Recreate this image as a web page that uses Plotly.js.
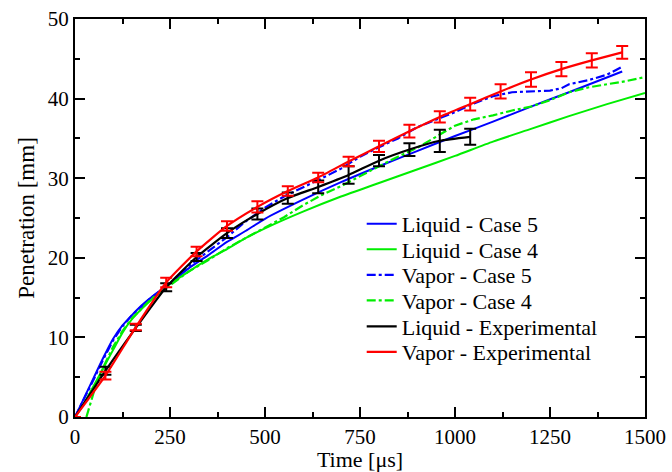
<!DOCTYPE html>
<html>
<head>
<meta charset="utf-8">
<script src="https://cdn.plot.ly/plotly-3.0.1.min.js"></script>
<style>html,body{margin:0;padding:0;background:#fff;}#chart{width:672px;height:472px;}</style>
</head>
<body>
<div id="chart"></div>
<script>
// Liquid - Case 5 (blue solid)
const liqC5_x = [0, 25, 50, 75, 100, 125, 150, 175, 200, 250, 300, 350, 400, 450, 500, 600, 700, 800, 900, 1000, 1100, 1200, 1300, 1440];
const liqC5_y = [0, 2.5, 5.0, 7.5, 9.8, 11.5, 12.8, 14.0, 15.0, 16.8, 18.7, 20.3, 22.0, 23.4, 24.9, 27.3, 29.5, 31.5, 33.4, 35.3, 37.1, 39.0, 40.8, 43.4];
// Liquid - Case 4 (green solid)
const liqC4_x = [0, 25, 50, 75, 100, 125, 150, 200, 250, 300, 350, 400, 450, 500, 600, 700, 800, 900, 1000, 1100, 1200, 1300, 1400, 1500];
const liqC4_y = [0, 1.8, 4.0, 6.2, 8.4, 10.6, 12.3, 14.7, 16.7, 18.3, 19.8, 21.1, 22.5, 23.7, 25.8, 27.7, 29.4, 31.1, 32.8, 34.6, 36.2, 37.8, 39.3, 40.7];
// Vapor - Case 5 (blue dash-dot)
const vapC5_x = [0, 25, 50, 75, 100, 125, 150, 175, 200, 250, 300, 350, 400, 450, 500, 550, 600, 650, 700, 750, 800, 850, 900, 950, 1000, 1050, 1100, 1150, 1200, 1250, 1280, 1300, 1350, 1400, 1440];
const vapC5_y = [0, 2.3, 4.8, 7.3, 9.6, 11.4, 12.8, 13.9, 15.0, 16.8, 19.0, 20.8, 22.6, 24.6, 26.3, 27.7, 28.8, 30.0, 31.2, 32.7, 33.9, 35.0, 36.4, 37.3, 38.3, 39.4, 40.3, 40.8, 40.9, 41.0, 41.3, 41.8, 42.3, 43.0, 44.0];
// Vapor - Case 4 (green dash-dot)
const vapC4_x = [30, 40, 50, 75, 100, 125, 150, 200, 250, 300, 350, 400, 450, 500, 550, 600, 650, 700, 750, 800, 850, 900, 950, 1000, 1050, 1100, 1150, 1200, 1250, 1300, 1350, 1400, 1450, 1500];
const vapC4_y = [0, 1.5, 3.2, 6.3, 8.8, 10.8, 12.4, 14.8, 16.6, 18.3, 19.7, 21.2, 22.5, 23.8, 25.1, 26.6, 27.9, 29.0, 30.3, 31.5, 32.7, 33.8, 35.2, 36.6, 37.4, 37.9, 38.5, 39.0, 39.8, 40.8, 41.4, 41.8, 42.2, 42.7];
// Liquid - Experimental (black, with error bars)
const liqExp_x = [0, 80, 160, 240, 320, 400, 480, 560, 640, 720, 800, 880, 960, 1040];
const liqExp_y = [0, 5.8, 11.2, 16.3, 20.1, 23.1, 25.5, 27.5, 28.9, 30.4, 32.2, 33.6, 34.7, 35.2];
const liqExp_err = [0, 0.5, 0.4, 0.5, 0.5, 0.6, 0.7, 0.7, 0.8, 1.1, 0.7, 0.8, 1.4, 1.0];
// Vapor - Experimental (red, with error bars)
const vapExp_x = [0, 80, 160, 240, 320, 400, 480, 560, 640, 720, 800, 880, 960, 1040, 1120, 1200, 1280, 1360, 1440];
const vapExp_y = [0, 5.2, 11.3, 16.9, 20.8, 24.0, 26.4, 28.4, 30.1, 32.1, 34.0, 35.9, 37.7, 39.3, 40.9, 42.4, 43.7, 44.8, 45.8];
const vapExp_err = [0, 0.5, 0.4, 0.6, 0.6, 0.6, 0.7, 0.6, 0.6, 0.6, 0.7, 0.8, 0.7, 0.8, 0.9, 0.9, 0.9, 0.9, 0.8];

const names = ['Liquid - Case 5', 'Liquid - Case 4', 'Vapor - Case 5', 'Vapor - Case 4', 'Liquid - Experimental', 'Vapor - Experimental'];

const FONT = 'Liberation Serif, DejaVu Serif, Noto Serif, Times, serif';
const BLUE = '#0000ff', GREEN = '#00ee00', BLACK = '#000000', RED = '#ff0000';

const traces = [
  {x: liqC5_x, y: liqC5_y, name: names[0], mode: 'lines', line: {color: BLUE, width: 2, shape: 'spline', smoothing: 0.6}, legend: 'legend'},
  {x: liqC4_x, y: liqC4_y, name: names[1], mode: 'lines', line: {color: GREEN, width: 2, shape: 'spline', smoothing: 0.6}, legend: 'legend2'},
  {x: vapC5_x, y: vapC5_y, name: names[2], mode: 'lines', line: {color: BLUE, width: 2.2, dash: 'dashdot'}, legend: 'legend3'},
  {x: vapC4_x, y: vapC4_y, name: names[3], mode: 'lines', line: {color: GREEN, width: 2.2, dash: 'dashdot'}, legend: 'legend4'},
  {x: liqExp_x, y: liqExp_y, name: names[4], mode: 'lines', line: {color: BLACK, width: 2.2, shape: 'spline', smoothing: 0.5},
   error_y: {type: 'data', array: liqExp_err, visible: true, color: BLACK, thickness: 2, width: 6}, legend: 'legend5'},
  {x: vapExp_x, y: vapExp_y, name: names[5], mode: 'lines', line: {color: RED, width: 2.2, shape: 'spline', smoothing: 0.5},
   error_y: {type: 'data', array: vapExp_err, visible: true, color: RED, thickness: 2, width: 6}, legend: 'legend6'}
];

const rowPx = [224, 249.5, 275, 300.5, 326.5, 352];
const plotTop = 19, plotBottom = 417;
const plotH = plotBottom - plotTop;
function legendAt(py) {
  return {x: 0.503, xanchor: 'left', y: (plotBottom - py) / plotH, yanchor: 'middle',
          bgcolor: 'rgba(0,0,0,0)', borderwidth: 0,
          font: {family: FONT, size: 22, color: '#000'}};
}

const axisCommon = {
  showgrid: false, zeroline: false, showline: true, linecolor: '#000', linewidth: 2,
  mirror: 'ticks', ticks: 'inside', ticklen: 10, tickwidth: 2, tickcolor: '#000',
  tickfont: {family: FONT, size: 21, color: '#000'},
  minor: {ticks: 'inside', ticklen: 5, tickwidth: 2, tickcolor: '#000'}
};

const layout = {
  width: 672, height: 472,
  margin: {l: 75, r: 27, t: 19, b: 55},
  paper_bgcolor: '#fff', plot_bgcolor: '#fff',
  font: {family: FONT, color: '#000'},
  showlegend: true,
  xaxis: Object.assign({}, axisCommon, {
    range: [0, 1500], tickmode: 'linear', tick0: 0, dtick: 250,
    minor: Object.assign({}, axisCommon.minor, {dtick: 125}),
    title: {text: 'Time [μs]', font: {family: FONT, size: 22, color: '#000'}, standoff: 9}
  }),
  yaxis: Object.assign({}, axisCommon, {
    range: [0, 50], tickmode: 'linear', tick0: 0, dtick: 10,
    minor: Object.assign({}, axisCommon.minor, {dtick: 5}),
    title: {text: 'Penetration [mm]', font: {family: FONT, size: 23, color: '#000'}, standoff: 7}
  }),
  legend: legendAt(rowPx[0]),
  legend2: legendAt(rowPx[1]),
  legend3: legendAt(rowPx[2]),
  legend4: legendAt(rowPx[3]),
  legend5: legendAt(rowPx[4]),
  legend6: legendAt(rowPx[5])
};

Plotly.newPlot('chart', traces, layout, {displayModeBar: false, staticPlot: true});
</script>
</body>
</html>
